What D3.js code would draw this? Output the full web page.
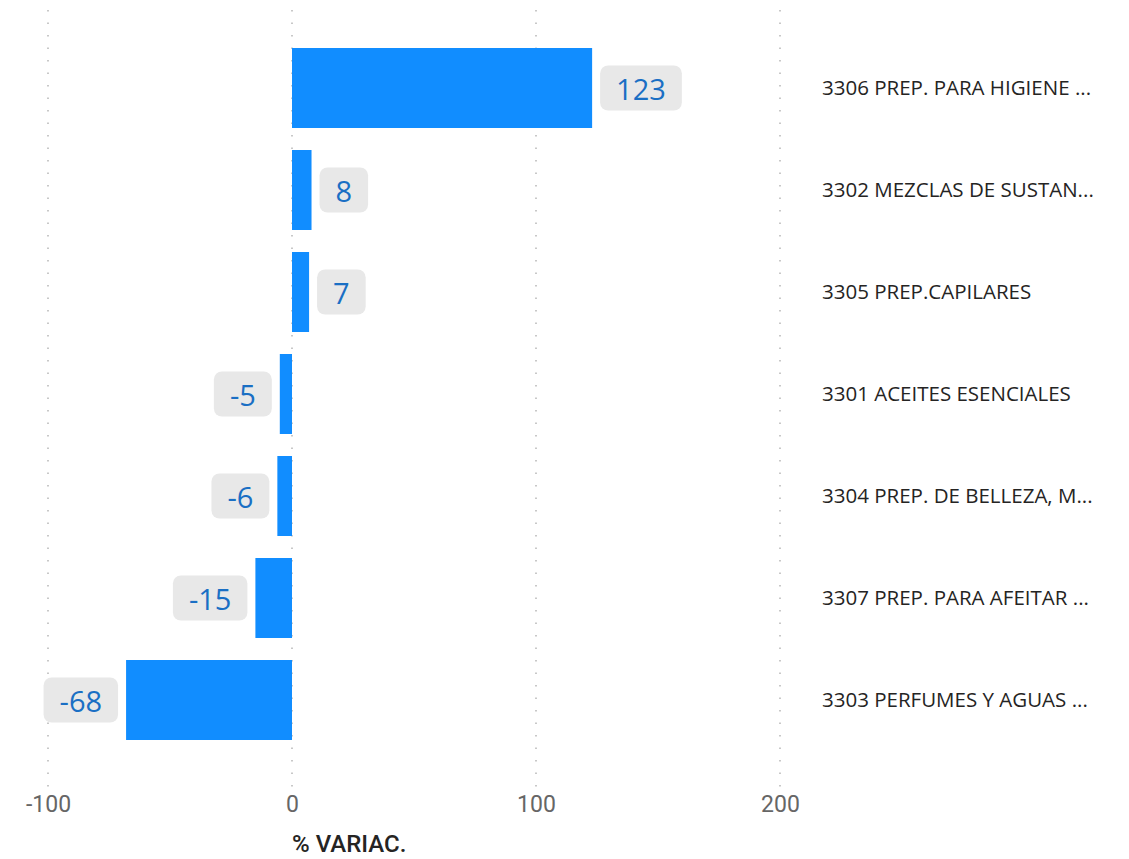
<!DOCTYPE html>
<html>
<head>
	<meta charset="utf-8">
	<title>% VARIAC.</title>
	<script src="https://d3js.org/d3.v7.min.js"></script>
	<style>
		body { margin: 0; background: #fff; }
	</style>
</head>
<body>
	<div class="chart"></div>

	<script type="text/javascript">

		// categories and values
		var categories = [
			'3306 PREP. PARA HIGIENE ...',
			'3302 MEZCLAS DE SUSTAN...',
			'3305 PREP.CAPILARES',
			'3301 ACEITES ESENCIALES',
			'3304 PREP. DE BELLEZA, M...',
			'3307 PREP. PARA AFEITAR ...',
			'3303 PERFUMES Y AGUAS ...'
		]
		var values = [123, 8, 7, -5, -6, -15, -68]
		var tickValues = [-100, 0, 100, 200]

		var width = 1129
		var height = 859

		var svg = d3
			.select('.chart')
			.append('svg')
			.attr('width', width)
			.attr('height', height)

		// scales
		var x = d3.scaleLinear().domain([-100, 200]).range([48, 780])
		var y = d3
			.scaleBand()
			.domain(categories)
			.range([48, 740])
			.paddingInner(22 / 102)
			.paddingOuter(0)

		// dotted grid
		svg.append('g')
			.selectAll('line')
			.data(tickValues)
			.enter()
			.append('line')
			.attr('x1', (d) => x(d))
			.attr('x2', (d) => x(d))
			.attr('y1', 10)
			.attr('y2', 790)
			.attr('stroke', '#c8c8c8')
			.attr('stroke-width', 2)
			.attr('stroke-dasharray', '1.5 11')

		// bars
		svg.append('g')
			.selectAll('rect')
			.data(values)
			.enter()
			.append('rect')
			.attr('x', (d) => x(Math.min(0, d)))
			.attr('y', (d, i) => y(categories[i]))
			.attr('width', (d) => Math.abs(x(d) - x(0)))
			.attr('height', y.bandwidth())
			.attr('fill', '#118dff')

		// value labels with rounded boxes
		var labels = svg.append('g')
			.selectAll('g')
			.data(values)
			.enter()
			.append('g')

		labels.each(function(d, i) {
			var g = d3.select(this)
			var cy = y(categories[i]) + y.bandwidth() / 2
			var t = g.append('text')
				.attr('y', cy)
				.attr('dy', '0.4em')
				.attr('text-anchor', 'middle')
				.attr('font-family', 'Open Sans, sans-serif')
				.attr('font-size', 29)
				.attr('fill', '#1a6fc4')
				.text(d)
			var w = t.node().getComputedTextLength() + 32
			var bx = d >= 0 ? x(d) + 8 : x(d) - 8 - w
			g.insert('rect', 'text')
				.attr('x', bx)
				.attr('y', cy - 22.5)
				.attr('width', w)
				.attr('height', 45)
				.attr('rx', 8)
				.attr('fill', '#e8e8e8')
			t.attr('x', bx + w / 2)
		})

		// category labels on the right
		svg.append('g')
			.selectAll('text')
			.data(categories)
			.enter()
			.append('text')
			.attr('x', 822)
			.attr('y', (d) => y(d) + y.bandwidth() / 2)
			.attr('dy', '0.35em')
			.attr('font-family', 'Open Sans, sans-serif')
			.attr('font-size', 20.5)
			.attr('fill', '#252423')
			.text((d) => d)

		// x axis
		var axis = svg.append('g')
			.attr('transform', 'translate(0, 790)')
			.call(d3.axisBottom(x).tickValues(tickValues).tickFormat((d) => String(d)).tickSize(0).tickPadding(6))
		axis.select('.domain').remove()
		axis.selectAll('text')
			.attr('font-family', 'Roboto, sans-serif')
			.attr('font-size', 23)
			.attr('fill', '#666')

		svg.append('text')
			.attr('x', 292)
			.attr('y', 852)
			.attr('font-family', 'Roboto, sans-serif')
			.attr('font-size', 24)
			.attr('font-weight', 500)
			.attr('fill', '#252423')
			.text('% VARIAC.')

	</script>
</body>
</html>
